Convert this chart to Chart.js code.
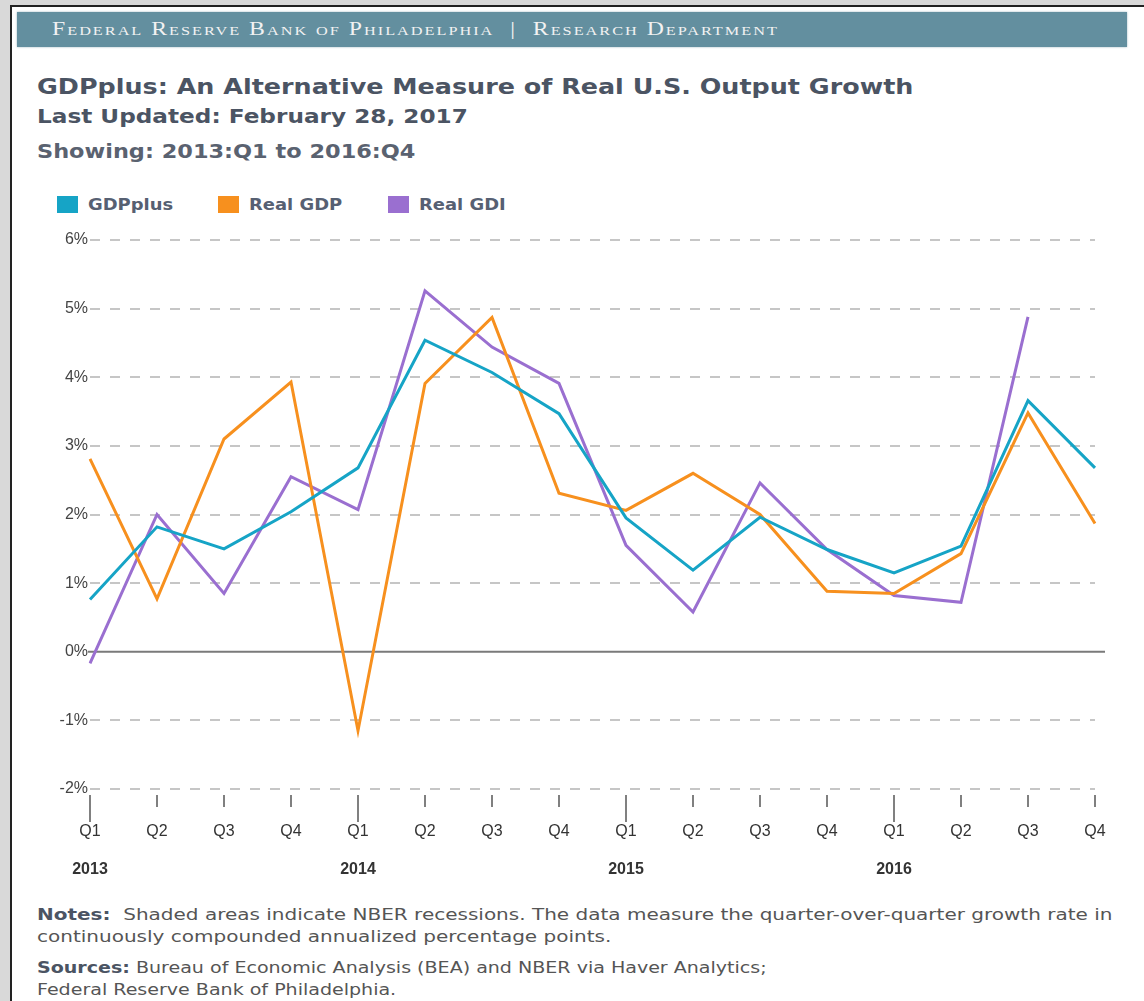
<!DOCTYPE html>
<html>
<head>
<meta charset="utf-8">
<script src="https://cdn.jsdelivr.net/npm/chart.js@4.4.1/dist/chart.umd.min.js"></script>
<style>
  html, body { margin: 0; padding: 0; }
  body { width: 1144px; height: 1001px; background: #d9d9d9; position: relative; overflow: hidden; font-family: "DejaVu Sans", Verdana, sans-serif; }
  #panel { position: absolute; left: 10px; top: 5px; width: 1200px; height: 1100px; background: #fff; border-left: 2px solid #222; border-top: 2px solid #222; }
  #banner { position: absolute; left: 17px; top: 12px; width: 1110px; height: 35px; background: #638f9f; box-shadow: 0 0 2px #9fb8c0; }
  #banner span { position: absolute; left: 35px; top: 7px; font-family: "Liberation Serif", "DejaVu Serif", serif; font-variant: small-caps; font-size: 19px; line-height: 20px; color: #f2f2f2; letter-spacing: 1.6px; white-space: nowrap; transform: scaleX(1.25); transform-origin: 0 0; }
  .txt { position: absolute; left: 37px; white-space: nowrap; font-weight: bold; color: #4b5463; line-height: 1; transform-origin: 0 0; }
  #title { top: 77px; font-size: 21px; transform: scaleX(1.21); }
  #updated { top: 107px; font-size: 19px; transform: scaleX(1.22); }
  #showing { top: 142px; font-size: 19px; color: #5a6270; transform: scaleX(1.18); }
  #legend { position: absolute; left: 57px; top: 196px; height: 18px; }
  .item { position: absolute; top: 0; white-space: nowrap; font-size: 16px; font-weight: bold; color: #566072; line-height: 18px; }
  .item i { display: inline-block; width: 21px; height: 17px; vertical-align: top; margin-right: 10px; }
  .item span { display: inline-block; transform: scaleX(1.12); transform-origin: 0 0; }
  #chartbox { position: absolute; left: 0; top: 225px; width: 1144px; height: 660px; }
  .note { position: absolute; left: 37px; white-space: nowrap; font-size: 16px; color: #555; line-height: 22px; transform-origin: 0 0; }
  .note b { color: #4b5463; }
</style>
</head>
<body>
<div id="panel"></div>
<div id="banner"><span>Federal Reserve Bank of Philadelphia &nbsp;|&nbsp; Research Department</span></div>
<div class="txt" id="title">GDPplus: An Alternative Measure of Real U.S. Output Growth</div>
<div class="txt" id="updated">Last Updated: February 28, 2017</div>
<div class="txt" id="showing">Showing: 2013:Q1 to 2016:Q4</div>
<div id="legend"></div>
<div id="chartbox"><canvas id="gdpChart" width="1144" height="660"></canvas></div>
<div class="note" style="top:904px; transform: scaleX(1.25)"><b>Notes:</b>&nbsp; Shaded areas indicate NBER recessions. The data measure the quarter-over-quarter growth rate in<br>continuously compounded annualized percentage points.</div>
<div class="note" style="top:957px; transform: scaleX(1.19)"><b>Sources:</b> Bureau of Economic Analysis (BEA) and NBER via Haver Analytics;<br>Federal Reserve Bank of Philadelphia.</div>

<script>
// quarters shown on the x axis
var quarters = ["Q1", "Q2", "Q3", "Q4", "Q1", "Q2", "Q3", "Q4", "Q1", "Q2", "Q3", "Q4", "Q1", "Q2", "Q3", "Q4"];
var years = ["2013", "", "", "", "2014", "", "", "", "2015", "", "", "", "2016", "", "", ""];

// growth rates, percent
var gdpPlus = [0.76, 1.82, 1.50, 2.04, 2.68, 4.54, 4.07, 3.47, 1.95, 1.19, 1.96, 1.49, 1.15, 1.54, 3.66, 2.68];
var realGDP = [2.81, 0.77, 3.10, 3.93, -1.15, 3.91, 4.87, 2.31, 2.06, 2.60, 2.00, 0.88, 0.85, 1.43, 3.48, 1.87];
var realGDI = [-0.17, 2.00, 0.85, 2.55, 2.07, 5.26, 4.44, 3.91, 1.55, 0.58, 2.46, 1.49, 0.82, 0.72, 4.88, null];

var seriesNames = ["GDPplus", "Real GDP", "Real GDI"];
var seriesColors = ["#16a4c6", "#f7901e", "#9a6fd0"];

var yTicks = [-2, -1, 0, 1, 2, 3, 4, 5, 6];

// legend (html)
var legendLeft = [0, 161, 331];
var legendDiv = document.getElementById("legend");
for (var i = 0; i < seriesNames.length; i++) {
  var it = document.createElement("div");
  it.className = "item";
  it.style.left = legendLeft[i] + "px";
  it.innerHTML = '<i style="background:' + seriesColors[i] + '"></i><span>' + seriesNames[i] + "</span>";
  legendDiv.appendChild(it);
}

function makeSet(name, data, color) {
  return {
    label: name,
    data: data,
    borderColor: color,
    backgroundColor: color,
    borderWidth: 3,
    pointRadius: 0,
    pointHoverRadius: 0,
    tension: 0,
    fill: false,
    spanGaps: false,
  };
}

// solid zero line + x tick marks
var extraLines = {
  id: "extraLines",
  beforeDatasetsDraw: function (chart) {
    var ctx = chart.ctx;
    var area = chart.chartArea;
    var y0 = chart.scales.y.getPixelForValue(0);
    ctx.save();
    ctx.strokeStyle = "#7a7a7a";
    ctx.lineWidth = 2;
    ctx.beginPath();
    ctx.moveTo(area.left - 2, y0);
    ctx.lineTo(area.right + 10, y0);
    ctx.stroke();

    var xs = chart.scales.x;
    ctx.strokeStyle = "#808080";
    for (var i = 0; i < quarters.length; i++) {
      var x = Math.round(xs.getPixelForTick(i));
      var len = quarters[i] == "Q1" ? 27 : 12;
      ctx.beginPath();
      ctx.moveTo(x, area.bottom + 6);
      ctx.lineTo(x, area.bottom + 6 + len);
      ctx.stroke();
    }
    ctx.restore();
  },
};

var tickFont = "Liberation Sans, Arial, sans-serif";

var canvas = document.getElementById("gdpChart");
var gdpChart = new Chart(canvas, {
  type: "line",
  data: {
    labels: quarters,
    datasets: [
      makeSet(seriesNames[0], gdpPlus, seriesColors[0]),
      makeSet(seriesNames[1], realGDP, seriesColors[1]),
      makeSet(seriesNames[2], realGDI, seriesColors[2]),
    ],
  },
  options: {
    responsive: false,
    animation: false,
    events: [],
    layout: { padding: { top: 15, right: 49, bottom: 0, left: 0 } },
    plugins: {
      legend: { display: false },
      tooltip: { enabled: false },
    },
    scales: {
      x: {
        offset: false,
        grid: { display: true, drawOnChartArea: false, drawTicks: false },
        border: { display: false },
        ticks: {
          autoSkip: false,
          maxRotation: 0,
          padding: 33,
          color: "#333",
          font: { family: tickFont, size: 16, lineHeight: 1.2 },
        },
        afterFit: function (scale) {
          scale.height = 60;
        },
      },
      years: {
        type: "category",
        labels: years,
        position: "bottom",
        offset: false,
        grid: { display: false, drawTicks: false },
        border: { display: false },
        ticks: {
          autoSkip: false,
          maxRotation: 0,
          padding: 11,
          color: "#333",
          font: { family: tickFont, size: 16, weight: "bold", lineHeight: 1.2 },
        },
        afterFit: function (scale) {
          scale.height = 36;
        },
      },
      y: {
        min: yTicks[0],
        max: yTicks[yTicks.length - 1],
        afterBuildTicks: function (scale) {
          scale.ticks = yTicks.map(function (v) { return { value: v }; });
        },
        grid: {
          drawTicks: false,
          lineWidth: 2,
          color: function (c) {
            return c.tick && c.tick.value === 0 ? "rgba(0,0,0,0)" : "#c6c6c6";
          },
        },
        border: { display: false, dash: [10, 10] },
        ticks: {
          padding: 2,
          color: "#444",
          font: { family: tickFont, size: 16 },
          callback: function (v) { return v + "%"; },
        },
        afterFit: function (scale) {
          scale.width = 90;
        },
      },
    },
  },
  plugins: [extraLines],
});
</script>
</body>
</html>
